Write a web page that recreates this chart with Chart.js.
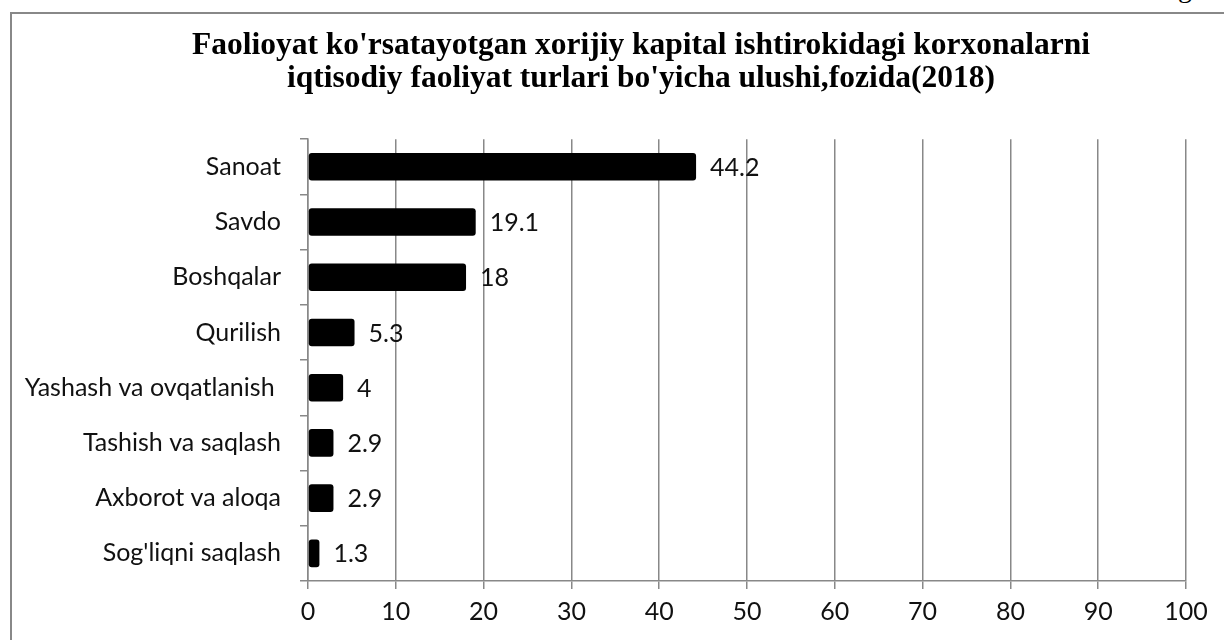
<!DOCTYPE html>
<html>
<head>
<meta charset="utf-8">
<script src="https://cdn.jsdelivr.net/npm/chart.js@4/dist/chart.umd.min.js"></script>
<style>
  html, body { margin: 0; padding: 0; background: #fff; overflow: hidden; width: 1224px; height: 640px; }
  #frame { position: absolute; left: 10px; top: 12px; width: 1264px; height: 640px; border: 2px solid #888; }
  #frame canvas { display: block; }
  #cut { position: absolute; left: 1178px; top: -26px; font: 28px 'Liberation Serif', serif; line-height: 28px; color: #000; }
</style>
</head>
<body>
<div id="cut">g</div>
<div id="frame"><canvas id="chart" width="1264" height="640"></canvas></div>
<script>
const titleLines = [
    "Faolioyat ko'rsatayotgan xorijiy kapital ishtirokidagi korxonalarni",
    "iqtisodiy faoliyat turlari bo'yicha ulushi,fozida(2018)"
];
const categories = ['Sanoat', 'Savdo', 'Boshqalar', 'Qurilish', 'Yashash va ovqatlanish ', 'Tashish va saqlash', 'Axborot va aloqa', "Sog'liqni saqlash"];
const shares = [44.2, 19.1, 18, 5.3, 4, 2.9, 2.9, 1.3];
const xTicks = [0, 10, 20, 30, 40, 50, 60, 70, 80, 90, 100];

const labelFont = "25px Lato, 'Open Sans', sans-serif";
const gridGray = '#888';

// value labels to the right of each bar
const valueLabels = {
    id: 'valueLabels',
    afterDatasetsDraw(chart) {
        const ctx = chart.ctx;
        const meta = chart.getDatasetMeta(0);
        ctx.save();
        ctx.font = labelFont;
        ctx.fillStyle = '#111';
        ctx.textAlign = 'left';
        ctx.textBaseline = 'middle';
        meta.data.forEach((bar, i) => {
            ctx.fillText(String(shares[i]), bar.x + 14, bar.y + 1);
        });
        ctx.restore();
    }
};

// centre the title over the whole frame, not just the padded area
const titleSpan = {
    id: 'titleSpan',
    afterLayout(chart) {
        const t = chart.titleBlock;
        if (!t) return;
        t.left = 0;
        t.right = 1258;
        t.width = 1258;
    }
};

new Chart(document.getElementById('chart'), {
    type: 'bar',
    data: {
        labels: categories,
        datasets: [{
            data: shares,
            backgroundColor: '#000',
            borderSkipped: false,
            borderRadius: 3,
            barPercentage: 0.5,
            categoryPercentage: 1
        }]
    },
    options: {
        indexAxis: 'y',
        responsive: false,
        animation: false,
        layout: { padding: { top: 0, right: 90, bottom: 0, left: 0 } },
        plugins: {
            legend: { display: false },
            tooltip: { enabled: false },
            title: {
                display: true,
                text: titleLines,
                color: '#000',
                font: { family: "'Liberation Serif', 'Times New Roman', serif", size: 31.5, weight: 'bold', lineHeight: 1.05 },
                padding: { top: 15, bottom: 44 }
            }
        },
        scales: {
            x: {
                min: 0, max: 100,
                afterBuildTicks: s => { s.ticks = xTicks.map(v => ({ value: v })); },
                afterFit: s => { s.height = 73; },
                grid: { color: gridGray, lineWidth: 1.5, tickLength: 8, drawTicks: true },
                border: { color: gridGray, width: 1.5 },
                ticks: { color: '#111', font: { family: "Lato, 'Open Sans', sans-serif", size: 25 }, padding: 8, maxRotation: 0 }
            },
            y: {
                afterFit: s => { s.width = 296; },
                grid: { offset: true, drawOnChartArea: false, color: gridGray, lineWidth: 1.5, tickLength: 8 },
                border: { color: gridGray, width: 1.5 },
                ticks: { color: '#111', font: { family: "Lato, 'Open Sans', sans-serif", size: 25 }, padding: 19 }
            }
        }
    },
    plugins: [valueLabels, titleSpan]
});
</script>
</body>
</html>
